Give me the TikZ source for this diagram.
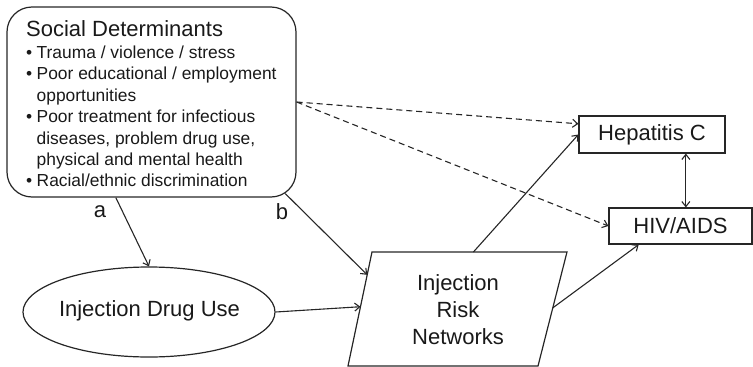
\documentclass[tikz,border=0pt]{standalone}
\usepackage{fontspec}
\setmainfont{Liberation Sans}
\usetikzlibrary{arrows.meta,shapes.geometric,calc}

\tikzset{
  outline/.style={draw=black!85, line width=1.2pt},
  big/.style={font=\fontsize{22}{26}\selectfont, text=black!90},
  link/.style={draw=black!85, line width=1.1pt, -{Straight Barb[length=5pt,width=8pt]}},
  dlink/.style={link, dash pattern=on 6pt off 4pt},
  twoway/.style={draw=black!85, line width=1.1pt, {Straight Barb[length=5pt,width=8pt]}-{Straight Barb[length=5pt,width=8pt]}},
  boxnode/.style={outline, big, rectangle, inner sep=0pt},
}

\newcommand{\bulletline}[1]{\noindent\hangindent=10.5pt\hangafter=1\makebox[10.5pt][l]{\textbullet}#1\par}

\begin{document}
\begin{tikzpicture}[x=1pt, y=-1pt]
  \useasboundingbox (0,0) rectangle (753,367);

  % social determinants box
  \node[outline, rounded corners=25pt, minimum width=289pt, minimum height=190pt, inner sep=0pt]
    (sd) at (151.5,102) {};
  \node[anchor=base west, inner sep=0pt, text=black!90] (sdtext) at (26,36)
    {\parbox[t]{270pt}{\raggedright
      \fontsize{22}{22}\selectfont Social Determinants\par
      \vspace{1.1pt}
      \fontsize{17.4}{21.4}\selectfont
      \bulletline{Trauma / violence / stress}
      \bulletline{Poor educational / employment\newline opportunities}
      \bulletline{Poor treatment for infectious\newline diseases, problem drug use,\newline physical and mental health}
      \bulletline{Racial/ethnic discrimination}
    }};

  % injection drug use
  \node[outline, big, ellipse, minimum width=252pt, minimum height=90pt, inner sep=0pt]
    (ide) at (149,312) {};
  \node[big, inner sep=0pt] (idetext) at (149.5,311) {Injection Drug Use};

  % injection risk networks (parallelogram)
  \coordinate (p-bl) at (348,366);
  \coordinate (p-br) at (538,366);
  \coordinate (p-tr) at (567,252);
  \coordinate (p-tl) at (372,252);
  \draw[outline] (p-bl) -- (p-br) -- (p-tr) -- (p-tl) -- cycle;
  \node[big, align=center, inner sep=0pt, font=\fontsize{22}{27}\selectfont] (irn) at (458,310)
    {Injection\\Risk\\Networks};

  % outcomes
  \node[boxnode, minimum width=146pt, minimum height=37pt] (hep) at (652,134.5) {Hepatitis C};
  \node[boxnode, minimum width=143pt, minimum height=36pt] (hiv) at (680.5,226) {HIV/AIDS};

  % path labels
  \node[big, inner sep=0pt] (la) at (100,212) {a};
  \node[big, inner sep=0pt] (lb) at (282,212) {b};

  % connectors
  \draw[link] ($(sd.south west)!0.377!(sd.south east)$) -- (ide.north);
  \draw[link] ($(sd.south west)!0.961!(sd.south east)+(0,-4)$) -- ($(p-tl)!0.2!(p-bl)$);
  \draw[link] (ide.east) -- ($(p-tl)!0.48!(p-bl)$);
  \draw[link] ($(p-tl)!0.52!(p-tr)$) -- (hep.west);
  \draw[link] ($(p-tr)!0.49!(p-br)$) -- ($(hiv.south west)!0.21!(hiv.south east)$);
  \draw[dlink] (sd.east) -- ($(hep.north west)!0.22!(hep.south west)$);
  \draw[dlink] (sd.east) -- (hiv.west);
  \coordinate (hx) at ($(hep.south west)!0.73!(hep.south east)$);
  \draw[twoway] (hx) -- (hx |- hiv.north);
\end{tikzpicture}
\end{document}
